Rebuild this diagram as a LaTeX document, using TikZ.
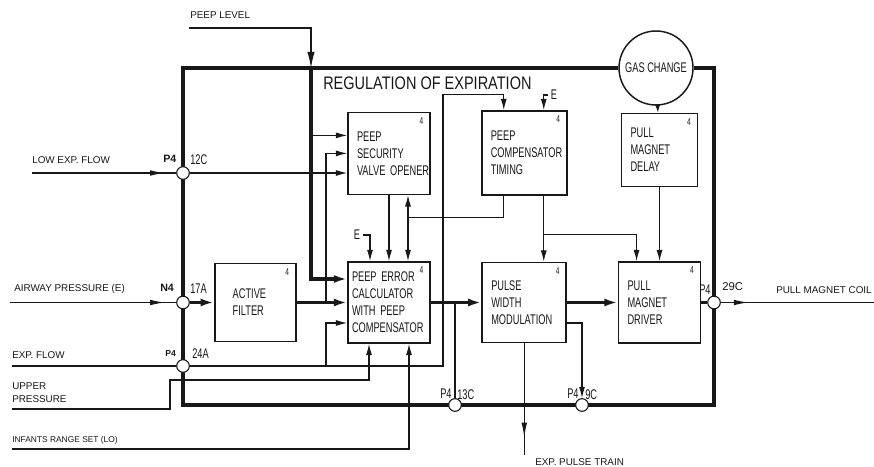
\documentclass[tikz,border=0pt]{standalone}
\usepackage{fontspec}
\usepackage{tikz}
\usetikzlibrary{arrows.meta,positioning,calc,decorations.markings}
\setmainfont{Liberation Sans}
\newfontfamily\rxcond[FakeStretch=0.66]{Liberation Sans}
\newfontfamily\rxhead[FakeStretch=0.8]{Liberation Sans}
\definecolor{rxink}{RGB}{24,24,24}
\tikzset{
  blk/.style={
    draw=rxink, line width=1.2pt, fill=white, align=left,
    inner xsep=6.75pt, inner ysep=0pt, text=rxink,
    font=\rxcond\fontsize{10.5}{12.75}\selectfont
  },
  num/.style={label={[font=\rxcond\fontsize{7.5}{8}\selectfont, text=rxink,
    anchor=north east, inner xsep=5.5pt, inner ysep=4pt]north east:4}},
  jn/.style={circle, draw=rxink, fill=white, line width=0.8pt, minimum size=9.5pt, inner sep=0pt},
  sig/.style={font=\fontsize{7.4}{9.75}\selectfont, text=rxink, inner sep=0pt, align=left},
  pintxt/.style={font=\rxcond\fontsize{10.5}{11}\selectfont, text=rxink, inner sep=0pt},
  pbold/.style={font=\bfseries\fontsize{8}{9}\selectfont, text=rxink, inner sep=0pt},
  wire/.style={draw=rxink, line width=0.85pt},
  arr/.style={wire, -{Latex[length=8.5pt,width=4.5pt]}},
  fat/.style={draw=rxink, line width=2.4pt},
  fatarr/.style={fat, -{Latex[length=10pt,width=6pt]}},
  rim/.style={draw=rxink, line width=3.4pt},
  midtip/.style={postaction=decorate, decoration={markings,
    mark=at position #1 with {\arrow{Latex[length=11pt,width=4.2pt]}}}}
}
\begin{document}
\begin{tikzpicture}[x=0.75pt, y=-0.75pt, node distance=49.5pt and 38pt]
  \path[use as bounding box, fill=white] (0,0) rectangle (874,467);
  \node[blk, num, text width=55.5pt, inner xsep=3pt, minimum height=60.75pt] (err) at (389,302.5)
    {PEEP~ERROR\\CALCULATOR\\WITH~PEEP\\COMPENSATOR};
  \node[blk, num, text width=33.75pt, inner xsep=13.5pt, minimum height=58.5pt, left=of err] (flt)
    {ACTIVE\\FILTER};
  \node[blk, num, text width=49.5pt, minimum height=60pt, right=of err] (pwm)
    {PULSE\\WIDTH\\MODULATION};
  \node[blk, num, text width=48pt, minimum height=60.75pt, right=of pwm] (drv)
    {PULL\\MAGNET\\DRIVER};
  \node[blk, num, text width=48pt, minimum height=61.5pt, above=of err] (sec)
    {PEEP\\SECURITY\\VALVE~OPENER};
  \node[blk, num, text width=50.25pt, minimum height=63pt, above=of pwm] (tim)
    {PEEP\\COMPENSATOR\\TIMING};
  \node[blk, num, text width=43.5pt, minimum height=54.75pt, above=55.5pt of drv] (dly)
    {PULL\\MAGNET\\DELAY};
  \node[circle, draw=rxink, line width=1.1pt, fill=white, minimum size=55.5pt, inner sep=0pt,
    text=rxink, font=\rxcond\fontsize{10.5}{12}\selectfont] (gas) at (656,68) {GAS~CHANGE};

  \coordinate (ftl) at (183,68);
  \coordinate (fbr) at (714,405);
  \draw[rim] (gas.west) -- (ftl) -- (ftl |- fbr) -- (fbr) -- (fbr |- ftl) -- (gas.east);

  \node[jn] (j12) at (183,173) {};
  \node[jn] (j17) at (183,302.5) {};
  \node[jn] (j24) at (183,366) {};
  \node[jn] (j13) at (455,405) {};
  \node[jn] (j9) at (582,405) {};
  \node[jn] (j29) at (714,302.5) {};

  \node[anchor=west, inner sep=0pt, text=rxink, font=\rxhead\fontsize{13.6}{14}\selectfont] (ttl)
    at (323,83) {REGULATION OF EXPIRATION};
  \node[sig, anchor=west] (tlvl) at (190,15) {PEEP LEVEL};
  \node[sig, anchor=west] (tlow) at (32,160) {LOW EXP. FLOW};
  \node[sig, anchor=west] (tair) at (14,289) {AIRWAY PRESSURE (E)};
  \node[sig, anchor=west] (texp) at (12,355) {EXP. FLOW};
  \node[sig, anchor=west] (tupp) at (12,392.5) {UPPER\\PRESSURE};
  \node[sig, anchor=west, font=\fontsize{6.3}{7}\selectfont] (tinf) at (12,440) {INFANTS RANGE SET (LO)};
  \node[sig, anchor=west] (tcoil) at (776,290) {PULL MAGNET COIL};
  \node[sig, anchor=west] (tpul) at (535,462) {EXP. PULSE TRAIN};

  \node[pbold, anchor=west] (p12) at (163,159) {P4};
  \node[pintxt, anchor=west] (c12) at (190,160) {12C};
  \node[pbold, anchor=west] (p17) at (160,288) {N4};
  \node[pintxt, anchor=west] (c17) at (190,289) {17A};
  \node[pbold, anchor=west, font=\bfseries\fontsize{6.5}{7}\selectfont] (p24) at (165,354) {P4};
  \node[pintxt, anchor=west] (c24) at (192,354) {24A};
  \node[pintxt, anchor=west] (p13) at (440,394) {P4};
  \node[pintxt, anchor=west] (c13) at (457,395) {13C};
  \node[pintxt, anchor=west] (p9) at (567,394) {P4};
  \node[pintxt, anchor=west] (c9) at (585,395) {9C};
  \node[pintxt, anchor=west] (p29) at (699,290) {P4};
  \node[sig, anchor=west, font=\fontsize{8.5}{9}\selectfont] (c29) at (722,287) {29C};
  \node[pintxt] (eerr) at (357,235) {E};
  \node[pintxt] (etim) at (554,95) {E};

  \coordinate (inlvl) at (189,28);
  \coordinate (inlow) at (32,173);
  \coordinate (inair) at (10,302.5);
  \coordinate (inexp) at (12,366);
  \coordinate (inupp) at (12,409);
  \coordinate (ininf) at (12,449);
  \coordinate (outcoil) at (874,302.5);
  \coordinate (outpul) at ($(pwm.south)+(0,112)$);

  \coordinate (lvlbus) at (311,68);
  \coordinate (errin1) at ($(err.west)+(0,-23.5)$);
  \coordinate (secin1) at ($(sec.west)+(0,-18)$);
  \draw[wire, -{Latex[length=12pt,width=5.5pt]}] (inlvl) -| (lvlbus);
  \draw[fatarr] (lvlbus) |- (errin1);
  \draw[arr] (lvlbus |- secin1) -- (secin1);

  \draw[wire, midtip=-8.5pt] (inlow) -- (j12);
  \draw[arr] (j12) -- (j12 -| sec.west);

  \draw[wire, midtip=-8.5pt] (inair) -- (j17);
  \draw[fatarr] (j17) -- (flt);
  \draw[fatarr] (flt) -- (err);
  \draw[fatarr] (err) -- (pwm);
  \draw[fatarr] (pwm) -- (drv);
  \draw[fat] (drv) -- (j29);
  \draw[wire, midtip=0.18] (j29) -- (outcoil);
  \coordinate (tapa) at (326,302.5);
  \draw[arr] (tapa) |- (sec.west);
  \coordinate (tapb) at (455,302.5);
  \draw[wire] (tapb) -- (j13);

  \coordinate (expc) at (443,366);
  \coordinate (timin1) at ($(tim.north)+(-20.5,0)$);
  \coordinate (errin3) at ($(err.west)+(0,20.5)$);
  \draw[arr] (inexp) -- (j24) -- (expc) |- ($(timin1)+(0,-16)$) -- (timin1);
  \draw[arr] (j24 -| tapa) |- (errin3);

  \coordinate (uppk) at (170,380);
  \coordinate (errs1) at ($(err.south)+(-20,0)$);
  \coordinate (errs2) at ($(err.south)+(20,0)$);
  \draw[arr] (inupp) -| (uppk) -| (errs1);
  \draw[arr] (ininf) -| (errs2);

  \coordinate (errn1) at ($(err.north)+(-19,0)$);
  \coordinate (errn3) at ($(err.north)+(19,0)$);
  \coordinate (secs3) at ($(sec.south)+(19,0)$);
  \coordinate (timout1) at ($(tim.south)+(-20.5,0)$);
  \coordinate (feedk) at ($(secs3)+(0,22)$);
  \draw[arr] ([xshift=2pt]eerr.east) -| (errn1);
  \draw[arr] (sec) -- (err);
  \draw[arr] (timout1) |- (feedk) -- (errn3);
  \draw[arr] (feedk) -- (secs3);

  \coordinate (timin2) at ($(tim.north)+(19.5,0)$);
  \coordinate (timout2) at ($(tim.south)+(19.5,0)$);
  \coordinate (timk) at ($(timout2)+(0,39)$);
  \coordinate (drvn1) at ($(drv.north)+(-23,0)$);
  \draw[arr] ([xshift=-2pt]etim.west) -| (timin2);
  \draw[arr] (timout2) -- (timout2 |- pwm.north);
  \draw[arr] (timk) -| (drvn1);

  \draw[arr] (dly) -- (dly |- drv.north);
  \draw[wire, -{Latex[length=6pt,width=4pt]}] (gas) -- (dly);

  \coordinate (pwmout) at ($(pwm.east)+(0,20.5)$);
  \draw[wire, midtip=0.84] (pwm) -- (outpul);
  \draw[arr] (pwmout) -| (j9);
\end{tikzpicture}
\end{document}
